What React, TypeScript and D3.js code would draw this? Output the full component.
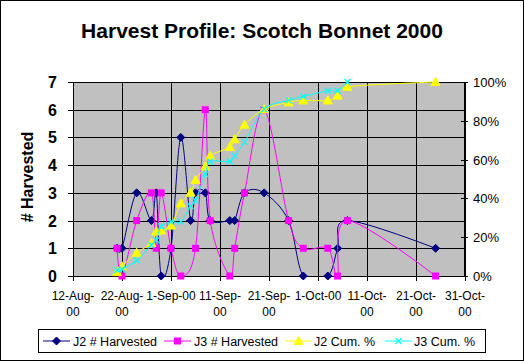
import React from 'react';
import * as d3 from 'd3';

// harvest dates (union of both plots)
const dates = [
  '2000-08-21', '2000-08-22', '2000-08-25', '2000-08-28', '2000-08-29', '2000-08-30',
  '2000-09-01', '2000-09-03', '2000-09-05', '2000-09-06', '2000-09-08', '2000-09-09',
  '2000-09-13', '2000-09-14', '2000-09-16', '2000-09-20', '2000-09-25', '2000-09-28',
  '2000-10-03', '2000-10-05', '2000-10-07', '2000-10-25',
];

// counts per date, null = not recorded
const j2Harvested = [1, 1, 3, 2, 3, 0, 1, 5, 2, 3, 3, 2, 2, 2, 3, 3, 2, 0, 0, 1, 2, 1];
const j3Harvested = [1, 0, 2, 3, 1, 3, 1, 0, null, 1, 6, 2, 0, 1, 3, 6, 2, 1, 1, 0, 2, 0];

// cumulative percent
const j2Cum = [2, 5, 12, 17, 23, 23.5, 26, 37.5, 43, 49.5, 56.5, 62, 66.5, 70.5, 78, 86, 89.5, 90.5, 90.5, 93, 97.5, 100];
const j3Cum = [3, 3.5, 8, 16, 18.5, 25.5, 28, 28, 36, 39, 52.5, 59, 59, 62, 69, 86, 90.5, 92.5, 95.5, 95.5, 100, null];

const xTickDates = ['2000-08-12', '2000-08-22', '2000-09-01', '2000-09-11', '2000-09-21', '2000-10-01', '2000-10-11', '2000-10-21', '2000-10-31'];
const xTickLabels = [
  ['12-Aug-', '00'], ['22-Aug-', '00'], ['1-Sep-00'], ['11-Sep-', '00'], ['21-Sep-', '00'],
  ['1-Oct-00'], ['11-Oct-', '00'], ['21-Oct-', '00'], ['31-Oct-', '00'],
];
const leftTicks = [0, 1, 2, 3, 4, 5, 6, 7];
const rightTicks = [0, 20, 40, 60, 80, 100];

const seriesNames = ['J2 # Harvested', 'J3 # Harvested', 'J2 Cum. %', 'J3 Cum. %'];
const seriesColors = ['#000080', '#FF00FF', '#FFFF00', '#00FFFF'];

const FONT = '"Liberation Sans", Arial, sans-serif';

const W = 524, H = 361;
const plot = { left: 73, right: 465, top: 82, bottom: 276 };

const parse = d3.utcParse('%Y-%m-%d');

const marker = (kind: string, color: string) => {
  if (kind === 'diamond') return <path d="M0,-4L4,0L0,4L-4,0Z" fill={color} stroke={color} />;
  if (kind === 'square') return <rect x={-3.5} y={-3.5} width={7} height={7} fill={color} />;
  if (kind === 'triangle') return <path d="M0,-4.5L4.5,3.5L-4.5,3.5Z" fill={color} stroke={color} />;
  return <path d="M-3,-3L3,3M-3,3L3,-3" stroke={color} strokeWidth={1.2} fill="none" />;
};
const markerKinds = ['diamond', 'square', 'triangle', 'x'];

const App: React.FC = () => {
  const x = d3.scaleUtc()
    .domain([parse(xTickDates[0])!, parse(xTickDates[xTickDates.length - 1])!])
    .range([plot.left, plot.right]);
  const yL = d3.scaleLinear().domain([0, 7]).range([plot.bottom, plot.top]);
  const yR = d3.scaleLinear().domain([0, 100]).range([plot.bottom, plot.top]);

  const series = [
    { values: j2Harvested, y: yL },
    { values: j3Harvested, y: yL },
    { values: j2Cum, y: yR },
    { values: j3Cum, y: yR },
  ];

  // excel-style smoothed line
  const line = d3.line<[number, number]>().curve(d3.curveCatmullRom.alpha(0));

  const legendItems = [
    { lx: 43, tx: 73 },
    { lx: 164, tx: 194 },
    { lx: 285, tx: 314 },
    { lx: 385, tx: 414 },
  ];

  return (
    <svg width={W} height={H} style={{ display: 'block', position: 'absolute', left: 0, top: 0 }} fontFamily={FONT}>
      <defs>
        <clipPath id="plotClip">
          <rect x={plot.left} y={plot.top - 2} width={plot.right - plot.left} height={plot.bottom - plot.top + 3} />
        </clipPath>
      </defs>
      <rect x={0.5} y={0.5} width={W - 1} height={H - 1} fill="#fff" stroke="#000" />
      <text x={262} y={38} textAnchor="middle" fontSize={21} fontWeight="bold">
        Harvest Profile: Scotch Bonnet 2000
      </text>

      <rect x={plot.left} y={plot.top} width={plot.right - plot.left} height={plot.bottom - plot.top} fill="#C0C0C0" />
      {leftTicks.map(t => (
        <line key={'h' + t} x1={plot.left} x2={plot.right} y1={Math.round(yL(t)) + 0.5} y2={Math.round(yL(t)) + 0.5} stroke="#000" />
      ))}
      {xTickDates.map(d => {
        const xx = Math.round(x(parse(d)!)) + 0.5;
        return <line key={'v' + d} x1={xx} x2={xx} y1={plot.top} y2={plot.bottom + 5} stroke="#000" />;
      })}

      {/* left axis */}
      <line x1={plot.left + 0.5} x2={plot.left + 0.5} y1={plot.top} y2={plot.bottom} stroke="#000" />
      {leftTicks.map(t => (
        <g key={'lt' + t}>
          <line x1={plot.left - 5} x2={plot.left} y1={Math.round(yL(t)) + 0.5} y2={Math.round(yL(t)) + 0.5} stroke="#000" />
          <text x={57} y={yL(t) + 6} textAnchor="end" fontSize={16} fontWeight="bold">{t}</text>
        </g>
      ))}
      <text transform="translate(33,177) rotate(-90)" textAnchor="middle" fontSize={16} fontWeight="bold"># Harvested</text>

      {/* right axis */}
      <line x1={plot.right - 0.5} x2={plot.right - 0.5} y1={plot.top} y2={plot.bottom} stroke="#000" />
      {rightTicks.map(t => (
        <g key={'rt' + t}>
          <line x1={plot.right - 4} x2={plot.right + 3} y1={Math.round(yR(t)) + 0.5} y2={Math.round(yR(t)) + 0.5} stroke="#000" />
          <text x={473} y={yR(t) + 5} fontSize={13}>{t}%</text>
        </g>
      ))}

      {/* x axis */}
      <line x1={plot.left} x2={plot.right} y1={plot.bottom + 0.5} y2={plot.bottom + 0.5} stroke="#000" />
      {xTickDates.map((d, i) => (
        <text key={'xl' + d} x={x(parse(d)!)} y={300} textAnchor="middle" fontSize={12}>
          {xTickLabels[i].map((s, j) => (
            <tspan key={j} x={x(parse(d)!)} dy={j === 0 ? 0 : 16}>{s}</tspan>
          ))}
        </text>
      ))}

      {/* series */}
      {series.map((s, si) => {
        const pts = dates
          .map((d, i) => [x(parse(d)!), s.values[i]] as [number, number | null])
          .filter(p => p[1] != null)
          .map(p => [p[0], s.y(p[1] as number)] as [number, number]);
        return (
          <g key={'s' + si}>
            <path d={line(pts) || ''} fill="none" stroke={seriesColors[si]} strokeWidth={1} clipPath="url(#plotClip)" />
            {pts.map((p, i) => (
              <g key={i} transform={`translate(${p[0]},${p[1]})`}>{marker(markerKinds[si], seriesColors[si])}</g>
            ))}
          </g>
        );
      })}

      {/* legend */}
      <rect x={38.5} y={329.5} width={447} height={23} fill="#fff" stroke="#000" />
      {legendItems.map((it, i) => (
        <g key={'lg' + i}>
          <line x1={it.lx} x2={it.lx + 27} y1={341} y2={341} stroke={seriesColors[i]} />
          <g transform={`translate(${it.lx + 13.5},341)`}>{marker(markerKinds[i], seriesColors[i])}</g>
          <text x={it.tx} y={345.5} fontSize={12.5}>{seriesNames[i]}</text>
        </g>
      ))}
    </svg>
  );
};

export default App;
